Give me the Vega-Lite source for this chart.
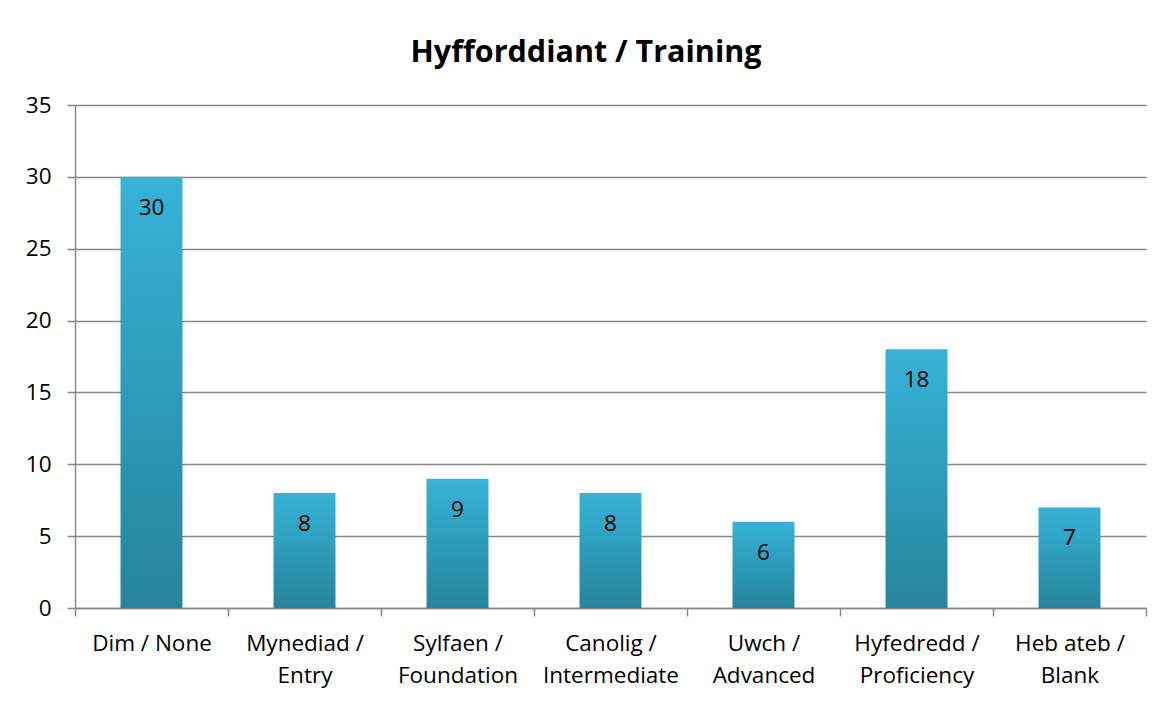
{
  "$schema": "https://vega.github.io/schema/vega-lite/v6.json",
  "width": 1071,
  "height": 503,
  "autosize": {"type": "none"},
  "padding": {"left": 75, "top": 105, "right": 19, "bottom": 98},
  "background": "white",
  "config": {
    "view": {"stroke": null},
    "font": "Open Sans"
  },
  "title": {
    "text": "Hyfforddiant / Training",
    "font": "Open Sans",
    "fontSize": 30.5,
    "fontWeight": "bold",
    "color": "black",
    "anchor": "middle",
    "frame": "bounds",
    "offset": 26
  },
  "data": {
    "values": [
      {"cat": "Dim / None", "n": 30},
      {"cat": "Mynediad /|Entry", "n": 8},
      {"cat": "Sylfaen /|Foundation", "n": 9},
      {"cat": "Canolig /|Intermediate", "n": 8},
      {"cat": "Uwch /|Advanced", "n": 6},
      {"cat": "Hyfedredd /|Proficiency", "n": 18},
      {"cat": "Heb ateb /|Blank", "n": 7}
    ]
  },
  "encoding": {
    "x": {
      "field": "cat",
      "type": "nominal",
      "sort": null,
      "scale": {"paddingInner": 0, "paddingOuter": 0},
      "axis": {
        "title": null,
        "labelAngle": 0,
        "labelExpr": "split(datum.label, '|')",
        "labelFont": "Open Sans",
        "labelFontSize": 22.5,
        "labelColor": "black",
        "labelLineHeight": 32,
        "labelBaseline": "top",
        "labelPadding": 16,
        "tickBand": "extent",
        "tickSize": 8,
        "tickColor": "#898989",
        "tickWidth": 1.5,
        "domainColor": "#898989",
        "domainWidth": 1.5,
        "grid": false
      }
    },
    "y": {
      "field": "n",
      "type": "quantitative",
      "scale": {"domain": [0, 35], "nice": false},
      "axis": {
        "title": null,
        "values": [0, 5, 10, 15, 20, 25, 30, 35],
        "labelFont": "Open Sans",
        "labelFontSize": 22.5,
        "labelColor": "black",
        "labelPadding": 16,
        "tickSize": 8,
        "tickColor": "#898989",
        "tickWidth": 1.5,
        "domainColor": "#898989",
        "domainWidth": 1.5,
        "grid": true,
        "gridColor": "#898989",
        "gridWidth": 1.5
      }
    }
  },
  "layer": [
    {
      "mark": {
        "type": "bar",
        "width": {"band": 0.405},
        "color": {
          "gradient": "linear",
          "x1": 0, "y1": 0, "x2": 0, "y2": 1,
          "stops": [
            {"offset": 0, "color": "#36B3D6"},
            {"offset": 1, "color": "#25849C"}
          ]
        }
      }
    },
    {
      "mark": {
        "type": "text",
        "baseline": "middle",
        "align": "center",
        "dy": 31,
        "font": "Open Sans",
        "fontSize": 22.5,
        "color": "black"
      },
      "encoding": {"text": {"field": "n", "type": "quantitative"}}
    }
  ]
}
